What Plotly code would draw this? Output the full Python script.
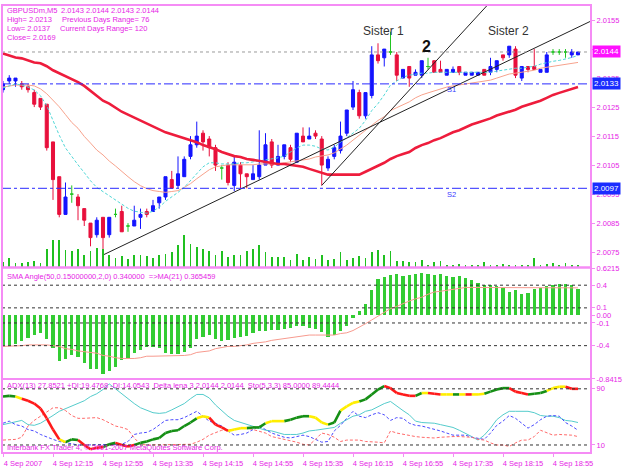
import plotly.graph_objects as go

# ---------------- data ----------------
bars = list(range(93))
tick_bars = [0, 8, 16, 24, 32, 40, 48, 56, 64, 72, 80, 88]
tick_labels = ["4 Sep 2007", "4 Sep 12:15", "4 Sep 12:55", "4 Sep 13:35", "4 Sep 14:15",
               "4 Sep 14:55", "4 Sep 15:35", "4 Sep 16:15", "4 Sep 16:55", "4 Sep 17:35",
               "4 Sep 18:15", "4 Sep 18:55"]

opens = [2.0131, 2.0134, 2.0134, 2.0133, 2.0132, 2.0130, 2.0128, 2.0126, 2.0113, 2.0101,
         2.0088, 2.0095, 2.0094, 2.0090, 2.0085, 2.0081, 2.0087, 2.0081, 2.0088, 2.0089,
         2.0084, 2.0084, 2.0087, 2.0089, 2.0089, 2.0092, 2.0094, 2.0100, 2.0098, 2.0101,
         2.0108, 2.0112, 2.0116, 2.0114, 2.0111, 2.0104, 2.0105, 2.0098, 2.0105, 2.0102,
         2.0100, 2.0101, 2.0105, 2.0113, 2.0105, 2.0108, 2.0111, 2.0106, 2.0115, 2.0114,
         2.0116, 2.0114, 2.0104, 2.0108, 2.0110, 2.0116, 2.0125, 2.0130, 2.0122, 2.0129,
         2.0143, 2.0142, 2.0144, 2.0143, 2.0135, 2.0139, 2.0136, 2.0136, 2.0139, 2.0141,
         2.0138, 2.0136, 2.0137, 2.0139, 2.0136, 2.0136, 2.0136, 2.0138, 2.0137, 2.0138,
         2.0143, 2.0143, 2.0145, 2.0135, 2.0139, 2.0139, 2.0137, 2.0137, 2.0144, 2.0144,
         2.0144, 2.0143, 2.0143]
highs = [2.0134, 2.0136, 2.0135, 2.0134, 2.0133, 2.0131, 2.0128, 2.0126, 2.0113, 2.0101,
         2.0099, 2.0098, 2.0095, 2.0090, 2.0085, 2.0087, 2.0087, 2.0087, 2.0090, 2.0091,
         2.0085, 2.0091, 2.0090, 2.0090, 2.0093, 2.0094, 2.0101, 2.0103, 2.0108, 2.0108,
         2.0115, 2.0120, 2.0117, 2.0115, 2.0112, 2.0105, 2.0106, 2.0108, 2.0106, 2.0102,
         2.0105, 2.0117, 2.0116, 2.0114, 2.0112, 2.0112, 2.0112, 2.0116, 2.0118, 2.0118,
         2.0117, 2.0115, 2.0108, 2.0112, 2.0120, 2.0124, 2.0134, 2.0131, 2.0130, 2.0146,
         2.0147, 2.0145, 2.0151, 2.0144, 2.0138, 2.0139, 2.0138, 2.0141, 2.0142, 2.0141,
         2.0141, 2.0138, 2.0139, 2.0139, 2.0137, 2.0137, 2.0137, 2.0138, 2.0142, 2.0141,
         2.0143, 2.0146, 2.0146, 2.0139, 2.0139, 2.0145, 2.0138, 2.0144, 2.0145, 2.0145,
         2.0145, 2.0145, 2.0144]
lows = [2.0130, 2.0133, 2.0132, 2.0131, 2.0130, 2.0125, 2.0124, 2.0110, 2.0093, 2.0087,
        2.0088, 2.0092, 2.0086, 2.0084, 2.0077, 2.0080, 2.0076, 2.0080, 2.0087, 2.0082,
        2.0082, 2.0084, 2.0083, 2.0087, 2.0089, 2.0090, 2.0093, 2.0097, 2.0097, 2.0101,
        2.0107, 2.0111, 2.0110, 2.0108, 2.0103, 2.0100, 2.0098, 2.0096, 2.0097, 2.0097,
        2.0100, 2.0100, 2.0105, 2.0104, 2.0105, 2.0107, 2.0106, 2.0106, 2.0113, 2.0114,
        2.0114, 2.0098, 2.0103, 2.0107, 2.0109, 2.0115, 2.0124, 2.0121, 2.0121, 2.0128,
        2.0140, 2.0139, 2.0143, 2.0134, 2.0135, 2.0132, 2.0136, 2.0135, 2.0138, 2.0137,
        2.0137, 2.0136, 2.0137, 2.0136, 2.0136, 2.0136, 2.0136, 2.0136, 2.0136, 2.0137,
        2.0141, 2.0142, 2.0135, 2.0134, 2.0137, 2.0138, 2.0137, 2.0137, 2.0143, 2.0143,
        2.0142, 2.0142, 2.0143]
closes = [2.0133, 2.0135, 2.0135, 2.0132, 2.0131, 2.0126, 2.0125, 2.0111, 2.0100, 2.0088,
          2.0094, 2.0095, 2.0091, 2.0086, 2.0080, 2.0086, 2.0080, 2.0087, 2.0088, 2.0082,
          2.0084, 2.0086, 2.0088, 2.0088, 2.0091, 2.0094, 2.0101, 2.0097, 2.0102, 2.0107,
          2.0112, 2.0115, 2.0113, 2.0111, 2.0105, 2.0104, 2.0099, 2.0106, 2.0102, 2.0101,
          2.0102, 2.0105, 2.0112, 2.0105, 2.0108, 2.0112, 2.0107, 2.0116, 2.0113, 2.0115,
          2.0115, 2.0105, 2.0107, 2.0111, 2.0115, 2.0124, 2.0131, 2.0122, 2.0130, 2.0143,
          2.0141, 2.0145, 2.0144, 2.0136, 2.0138, 2.0135, 2.0137, 2.0141, 2.0139, 2.0137,
          2.0137, 2.0138, 2.0138, 2.0137, 2.0137, 2.0137, 2.0137, 2.0136, 2.0139, 2.0141,
          2.0142, 2.0146, 2.0136, 2.0139, 2.0138, 2.0138, 2.0138, 2.0143, 2.0144, 2.0144,
          2.0144, 2.0144, 2.0144]
volumes = [24, 40, 20, 20, 24, 28, 20, 76, 112, 112, 72, 68, 76, 52, 68, 80, 76, 52, 40, 48,
           36, 52, 52, 48, 40, 52, 56, 64, 92, 132, 96, 84, 76, 68, 52, 68, 44, 52, 52, 68,
           76, 92, 64, 44, 44, 44, 32, 56, 32, 44, 36, 52, 32, 36, 64, 32, 40, 48, 40, 64,
           72, 52, 68, 28, 28, 24, 24, 32, 12, 24, 28, 12, 12, 16, 12, 12, 12, 24, 12, 12,
           16, 12, 12, 12, 12, 40, 12, 16, 20, 12, 20, 12, 12]

ma_slow = [2.01435, 2.01428, 2.01421, 2.01418, 2.01411, 2.01404, 2.01401, 2.01391, 2.01377, 2.01367,
           2.01357, 2.01347, 2.01336, 2.01323, 2.01306, 2.01289, 2.01272, 2.01262, 2.01248, 2.01234,
           2.01224, 2.01214, 2.01204, 2.01194, 2.01183, 2.01173, 2.01163, 2.01156, 2.01149, 2.01143,
           2.01136, 2.01129, 2.01119, 2.01112, 2.01105, 2.01095, 2.01088, 2.01081, 2.01078, 2.01071,
           2.01068, 2.01064, 2.01061, 2.01058, 2.01054, 2.01054, 2.01051, 2.01047, 2.01044, 2.01037,
           2.01031, 2.01024, 2.01017, 2.01017, 2.01017, 2.01017, 2.01017, 2.01017, 2.01027, 2.01037,
           2.01047, 2.01058, 2.01071, 2.01081, 2.01088, 2.01095, 2.01109, 2.01119, 2.01126, 2.01136,
           2.01143, 2.01153, 2.01163, 2.01170, 2.01180, 2.01190, 2.01197, 2.01204, 2.01211, 2.01221,
           2.01228, 2.01234, 2.01241, 2.01251, 2.01258, 2.01265, 2.01272, 2.01282, 2.01292, 2.01299,
           2.01306, 2.01313, 2.01319]
ma_mid = [2.01319, 2.01323, 2.01326, 2.01326, 2.01326, 2.01323, 2.01313, 2.01296, 2.01275, 2.01251,
          2.01224, 2.01197, 2.01177, 2.01149, 2.01126, 2.01102, 2.01085, 2.01064, 2.01047, 2.01027,
          2.01010, 2.00993, 2.00979, 2.00969, 2.00962, 2.00959, 2.00956, 2.00959, 2.00962, 2.00973,
          2.00986, 2.01003, 2.01020, 2.01034, 2.01044, 2.01047, 2.01051, 2.01051, 2.01051, 2.01051,
          2.01051, 2.01054, 2.01054, 2.01054, 2.01054, 2.01058, 2.01061, 2.01064, 2.01068, 2.01071,
          2.01078, 2.01081, 2.01085, 2.01092, 2.01105, 2.01119, 2.01136, 2.01153, 2.01173, 2.01190,
          2.01204, 2.01217, 2.01238, 2.01248, 2.01258, 2.01268, 2.01282, 2.01292, 2.01299, 2.01306,
          2.01313, 2.01319, 2.01323, 2.01326, 2.01330, 2.01333, 2.01336, 2.01340, 2.01343, 2.01350,
          2.01357, 2.01364, 2.01367, 2.01370, 2.01374, 2.01377, 2.01384, 2.01387, 2.01391, 2.01394,
          2.01398, 2.01401, 2.01404]
ma_fast = [2.01316, 2.01323, 2.01330, 2.01326, 2.01319, 2.01309, 2.01289, 2.01255, 2.01204, 2.01153,
           2.01109, 2.01078, 2.01051, 2.01024, 2.00996, 2.00973, 2.00959, 2.00945, 2.00932, 2.00915,
           2.00901, 2.00891, 2.00888, 2.00884, 2.00891, 2.00905, 2.00925, 2.00939, 2.00956, 2.00973,
           2.00996, 2.01020, 2.01044, 2.01058, 2.01058, 2.01054, 2.01054, 2.01054, 2.01058, 2.01058,
           2.01061, 2.01064, 2.01068, 2.01071, 2.01075, 2.01081, 2.01095, 2.01109, 2.01119, 2.01119,
           2.01115, 2.01105, 2.01102, 2.01112, 2.01129, 2.01143, 2.01160, 2.01177, 2.01204, 2.01238,
           2.01262, 2.01292, 2.01326, 2.01340, 2.01353, 2.01360, 2.01364, 2.01367, 2.01367, 2.01370,
           2.01370, 2.01370, 2.01370, 2.01370, 2.01370, 2.01370, 2.01370, 2.01370, 2.01370, 2.01374,
           2.01377, 2.01381, 2.01384, 2.01384, 2.01387, 2.01391, 2.01398, 2.01404, 2.01408, 2.01411,
           2.01415, 2.01421, 2.01428]

trend1_bars = [16, 94.4]
trend1_prices = [2.0074, 2.0155]
trend2_bars = [51, 80]
trend2_prices = [2.0098, 2.0166]

price_now = 2.0144
s1_price = 2.0133
s2_price = 2.0097
price_ticks = [2.0155, 2.0145, 2.0135, 2.0125, 2.0115, 2.0105, 2.0095, 2.0085, 2.0075]

sma_angle = [-0.40, -0.40, -0.39, -0.34, -0.31, -0.27, -0.24, -0.32, -0.44, -0.61,
             -0.58, -0.53, -0.56, -0.63, -0.71, -0.71, -0.78, -0.74, -0.69, -0.60,
             -0.57, -0.50, -0.47, -0.43, -0.42, -0.44, -0.50, -0.52, -0.52, -0.49,
             -0.44, -0.32, -0.29, -0.26, -0.32, -0.34, -0.33, -0.30, -0.29, -0.28,
             -0.24, -0.21, -0.21, -0.20, -0.20, -0.18, -0.17, -0.15, -0.15, -0.17,
             -0.18, -0.23, -0.29, -0.26, -0.21, -0.14, -0.04, 0.05, 0.14, 0.33,
             0.47, 0.50, 0.53, 0.54, 0.52, 0.53, 0.54, 0.55, 0.54, 0.53,
             0.54, 0.52, 0.50, 0.51, 0.49, 0.46, 0.42, 0.39, 0.39, 0.38,
             0.36, 0.31, 0.33, 0.28, 0.29, 0.34, 0.36, 0.38, 0.40, 0.41,
             0.41, 0.39, 0.34]
sma_ma21 = [-0.41, -0.41, -0.40, -0.40, -0.39, -0.39, -0.39, -0.39, -0.40, -0.41,
            -0.44, -0.45, -0.47, -0.48, -0.49, -0.50, -0.53, -0.54, -0.56, -0.57,
            -0.57, -0.57, -0.56, -0.54, -0.54, -0.54, -0.54, -0.54, -0.54, -0.53,
            -0.52, -0.49, -0.48, -0.47, -0.44, -0.43, -0.41, -0.41, -0.40, -0.39,
            -0.37, -0.36, -0.35, -0.33, -0.32, -0.31, -0.30, -0.28, -0.27, -0.26,
            -0.26, -0.26, -0.26, -0.26, -0.24, -0.23, -0.20, -0.16, -0.11, -0.06,
            -0.01, 0.05, 0.09, 0.12, 0.16, 0.19, 0.22, 0.24, 0.28, 0.31,
            0.32, 0.33, 0.35, 0.36, 0.37, 0.37, 0.37, 0.37, 0.37, 0.37,
            0.37, 0.37, 0.37, 0.37, 0.36, 0.36, 0.36, 0.36, 0.37, 0.37,
            0.37, 0.37, 0.365]
sma_levels = [0.4, 0.1, -0.1, -0.4]
sma_ticks = [0.6215, 0.4, 0.1, 0.0, -0.1, -0.4, -0.8415]
sma_tick_text = ["0.6215", "0.4", "0.1", "0.00", "-0.1", "-0.4", "-0.8415"]

sto_main = [79, 80, 79, 76, 73, 69, 62, 48, 32, 18,
            14, 18, 17, 10, 4, 6, 7, 11, 13, 10,
            8, 10, 13, 15, 18, 20, 27, 30, 31, 37,
            42, 48, 51, 49, 39, 35, 30, 32, 34, 34,
            35, 35, 41, 44, 44, 44, 46, 49, 51, 51,
            49, 42, 39, 42, 59, 65, 70, 72, 75, 82,
            89, 94, 91, 84, 82, 80, 80, 84, 84, 83,
            82, 82, 82, 82, 82, 82, 82, 83, 86, 89,
            91, 91, 86, 84, 82, 83, 84, 87, 91, 93,
            93, 90, 90]
sto_state = "gggyrrrrrr" "yggrrrrggr" "rrgggggggg" "ggyyrrryyy" "gggyyygggg" \
            "yyyggyyygg" "ggrrrrrgyr" "ryygyryygg" "ggrrrgggyy" "yrr"
adx_line = [39, 41, 44, 45, 39, 38, 41, 46, 52, 58,
            62, 66, 70, 73, 79, 83, 89, 97, 90, 83,
            75, 69, 63, 59, 56, 55, 56, 60, 65, 69,
            76, 82, 82, 77, 67, 59, 51, 45, 42, 39,
            37, 34, 31, 30, 27, 25, 25, 25, 27, 30,
            31, 32, 34, 35, 41, 46, 51, 53, 58, 60,
            65, 69, 72, 65, 59, 53, 44, 42, 42, 41,
            39, 37, 35, 31, 27, 22, 17, 24, 34, 46,
            53, 58, 58, 58, 58, 56, 52, 51, 51, 49,
            45, 44, 42]
plus_di = [41, 44, 39, 37, 32, 30, 25, 21, 18, 15,
           13, 11, 10, 10, 10, 10, 11, 11, 11, 11,
           15, 25, 27, 28, 32, 38, 45, 46, 46, 49,
           53, 58, 51, 44, 41, 37, 30, 24, 25, 27,
           32, 37, 32, 27, 24, 21, 20, 22, 24, 22,
           18, 14, 15, 30, 38, 48, 58, 51, 49, 53,
           56, 53, 45, 49, 48, 41, 38, 37, 35, 32,
           30, 27, 24, 24, 24, 21, 20, 18, 27, 38,
           44, 52, 48, 41, 34, 39, 46, 51, 52, 51,
           42, 37, 31]
minus_di = [17, 17, 18, 21, 37, 45, 51, 58, 63, 63,
            59, 52, 48, 48, 48, 49, 46, 41, 37, 35,
            32, 20, 11, 10, 10, 10, 10, 10, 10, 10,
            11, 14, 18, 24, 28, 31, 32, 32, 34, 34,
            32, 30, 27, 22, 20, 18, 17, 14, 11, 10,
            18, 27, 25, 21, 15, 17, 17, 17, 15, 15,
            14, 13, 30, 27, 25, 24, 22, 21, 20, 20,
            21, 22, 22, 22, 22, 21, 18, 17, 13, 10,
            10, 8, 13, 17, 17, 22, 31, 28, 24, 25,
            25, 24, 22]
adx_levels = [90, 10]
adx_ticks = [90, 10]

# ---------------- styles ----------------
MAG = "#e61ee6"
FRAME = "#f58cf5"
FONT = "Liberation Sans, Arial, sans-serif"
BLUE = "#1414ff"
RED = "#e8103c"
GREEN = "#22c422"

def px(xp):
    return (xp - 2) / 589.0

def py(yp):
    return (455 - yp) / 454.0

fig = go.Figure()

# volume (overlay at bottom of main panel)
fig.add_trace(go.Bar(x=bars, y=volumes, width=0.15, marker=dict(color="#20c020", line=dict(width=0)),
                     xaxis="x", yaxis="y4", hoverinfo="skip"))

# moving averages
fig.add_trace(go.Scatter(x=bars, y=ma_mid, mode="lines", line=dict(color="#f7a28c", width=1),
                         xaxis="x", yaxis="y"))
fig.add_trace(go.Scatter(x=bars, y=ma_fast, mode="lines", line=dict(color="#4fd6d6", width=1, dash="3px,2px"),
                         xaxis="x", yaxis="y"))
fig.add_trace(go.Scatter(x=bars, y=ma_slow, mode="lines", line=dict(color="#ee1c3c", width=2.6),
                         xaxis="x", yaxis="y"))

# candles
groups = [([i for i in bars if closes[i] > opens[i]], BLUE),
          ([i for i in bars if closes[i] < opens[i]], RED),
          ([i for i in bars if closes[i] == opens[i]], GREEN)]
for idx, col in groups:
    fig.add_trace(go.Candlestick(
        x=idx, open=[opens[i] for i in idx], high=[highs[i] for i in idx],
        low=[lows[i] for i in idx], close=[closes[i] for i in idx],
        increasing=dict(line=dict(color=col, width=1), fillcolor=col),
        decreasing=dict(line=dict(color=col, width=1), fillcolor=col),
        whiskerwidth=0, xaxis="x", yaxis="y", hoverinfo="skip"))

# trend lines
fig.add_trace(go.Scatter(x=trend1_bars, y=trend1_prices, mode="lines", line=dict(color="#222222", width=1),
                         xaxis="x", yaxis="y"))
fig.add_trace(go.Scatter(x=trend2_bars, y=trend2_prices, mode="lines", line=dict(color="#222222", width=1),
                         xaxis="x", yaxis="y"))

# SMA angle panel
fig.add_trace(go.Bar(x=bars, y=sma_angle, width=0.5, marker=dict(color="#33cc33", line=dict(width=0)),
                     xaxis="x", yaxis="y2", hoverinfo="skip"))
fig.add_trace(go.Scatter(x=bars, y=sma_ma21, mode="lines", line=dict(color="#f79a8e", width=1),
                         xaxis="x", yaxis="y2"))

# ADX / stochastic panel
fig.add_trace(go.Scatter(x=bars, y=adx_line, mode="lines", line=dict(color="#55cccc", width=1),
                         xaxis="x", yaxis="y3"))
fig.add_trace(go.Scatter(x=bars, y=plus_di, mode="lines", line=dict(color="#4a4aff", width=1, dash="3px,2px"),
                         xaxis="x", yaxis="y3"))
fig.add_trace(go.Scatter(x=bars, y=minus_di, mode="lines", line=dict(color="#ff6a6a", width=1, dash="3px,2px"),
                         xaxis="x", yaxis="y3"))
seg_colors = {"g": "#158f15", "y": "#ffee00", "r": "#ff1a1a"}
for code, col in seg_colors.items():
    xs, ys = [], []
    for i in range(1, len(bars)):
        if sto_state[i] == code:
            xs += [bars[i - 1], bars[i], None]
            ys += [sto_main[i - 1], sto_main[i], None]
    fig.add_trace(go.Scatter(x=xs, y=ys, mode="lines", line=dict(color=col, width=2.6),
                             xaxis="x", yaxis="y3", connectgaps=False))

shapes = []
# horizontal reference lines
shapes.append(dict(type="line", xref="paper", x0=0, x1=1, yref="y", y0=price_now, y1=price_now,
                   line=dict(color="#9a9a9a", width=1, dash="dot")))
for lv in (s1_price, s2_price):
    shapes.append(dict(type="line", xref="paper", x0=0, x1=1, yref="y", y0=lv, y1=lv,
                       line=dict(color="#2a2aff", width=1, dash="dashdot")))
for lv in sma_levels:
    shapes.append(dict(type="line", xref="paper", x0=0, x1=1, yref="y2", y0=lv, y1=lv,
                       line=dict(color="#333333", width=1, dash="dot")))
for lv in adx_levels:
    shapes.append(dict(type="line", xref="paper", x0=0, x1=1, yref="y3", y0=lv, y1=lv,
                       line=dict(color="#333333", width=1, dash="dot")))
# panel frames
for y0p, y1p in ((267, 1), (380, 267), (455, 380)):
    shapes.append(dict(type="rect", xref="paper", yref="paper", x0=0, x1=1, y0=py(y0p), y1=py(y1p),
                       line=dict(color=FRAME, width=2), fillcolor="rgba(0,0,0,0)", layer="above"))

ann = []
def txt(x, y, s, size=7.5, color=MAG, anchor="left", **kw):
    ann.append(dict(xref="paper", yref="paper", x=px(x), y=py(y), text=s, showarrow=False,
                    xanchor=anchor, yanchor="middle", font=dict(size=size, color=color, family=FONT), **kw))

txt(5, 7, "GBPUSDm,M5")
txt(59, 7, "2.0143 2.0144 2.0143 2.0144")
txt(5, 16, "High= 2.0213")
txt(60, 16, "Previous Days Range= 76")
txt(5, 25, "Low= 2.0137")
txt(58, 25, "Current Days Range= 120")
txt(5, 34, "Close= 2.0169")
txt(5, 276, "SMA Angle(50,0.15000000,2,0) 0.340000  =>MA(21) 0.365459")
txt(5, 387, "ADX(13) 27.8521 +DI:19.4768 -DI:14.0543  Delta lena 3 2.0144 2.0144  Sto(5,3,3) 85.0000 89.4444")
txt(5, 449, "Interbank FX Trader 4, \u00a9 2001-2007 MetaQuotes Software Corp.")

# chart labels in data coordinates
ann.append(dict(xref="x", yref="y", x=60.8, y=2.01513, text="Sister 1", showarrow=False,
                font=dict(size=12, color="#333333", family=FONT)))
ann.append(dict(xref="x", yref="y", x=80.8, y=2.01513, text="Sister 2", showarrow=False,
                font=dict(size=12, color="#333333", family=FONT)))
ann.append(dict(xref="x", yref="y", x=67.8, y=2.01459, text="<b>2</b>", showarrow=False,
                font=dict(size=16, color="#111111", family=FONT)))
ann.append(dict(xref="x", yref="y", x=71.8, y=2.01309, text="S1", showarrow=False,
                font=dict(size=7.5, color="#3a3aff", family=FONT)))
ann.append(dict(xref="x", yref="y", x=71.8, y=2.00949, text="S2", showarrow=False,
                font=dict(size=7.5, color="#3a3aff", family=FONT)))

# price boxes on right axis
for val, bg in ((price_now, "#ff10ff"), (s1_price, "#1a2cff"), (s2_price, "#1a2cff")):
    ann.append(dict(xref="paper", yref="y", x=1, y=val, xanchor="left", xshift=1,
                    text=f"{val:.4f}", showarrow=False, bgcolor=bg, borderpad=1,
                    font=dict(size=8, color="white", family=FONT)))

axis_common = dict(showgrid=False, zeroline=False, side="right", anchor="x", ticks="outside",
                   ticklen=3, tickcolor=FRAME, showline=False,
                   tickfont=dict(size=7.5, color=MAG, family=FONT))

fig.update_layout(
    width=625, height=469,
    margin=dict(l=2, r=34, t=1, b=14, pad=0),
    paper_bgcolor="white", plot_bgcolor="white",
    showlegend=False, boxmode="overlay", boxgap=0.3, bargap=0,
    shapes=shapes, annotations=ann,
    xaxis=dict(range=[-0.16, 94.08], anchor="y3", tickvals=tick_bars, ticktext=tick_labels,
               ticks="outside", ticklen=3, tickcolor=FRAME, showgrid=False, zeroline=False,
               showline=False, rangeslider=dict(visible=False), ticklabelshift=20,
               tickfont=dict(size=7.5, color=MAG, family=FONT)),
    yaxis=dict(domain=[py(267), py(1)], range=[2.00697, 2.01602], tickvals=price_ticks,
               tickformat=".4f", **axis_common),
    yaxis2=dict(domain=[py(380), py(268)], range=[-0.8415, 0.6215], tickvals=sma_ticks,
                ticktext=sma_tick_text, **axis_common),
    yaxis3=dict(domain=[0, py(381)], range=[-1.4, 102.6], tickvals=adx_ticks, **axis_common),
    yaxis4=dict(overlaying="y", range=[0, 1068], visible=False, anchor="x"),
)

fig.write_html("out.html")
